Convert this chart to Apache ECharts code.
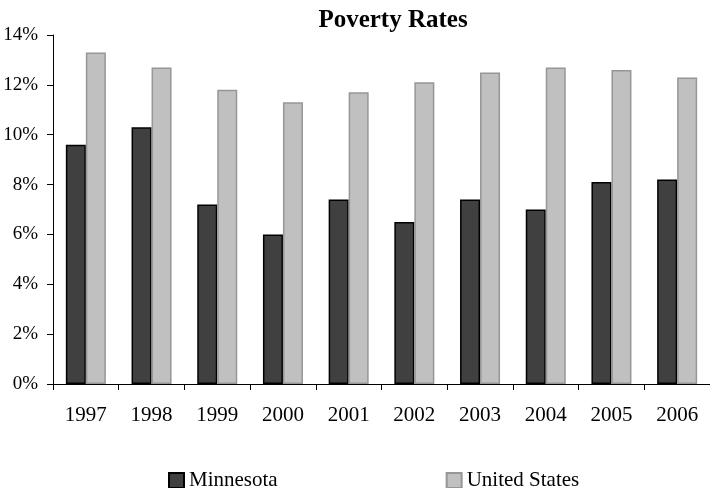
<!DOCTYPE html>
<html>
<head>
    <meta charset="utf-8" />
    <title>Poverty Rates</title>
    <script src="https://cdn.jsdelivr.net/npm/echarts@6/dist/echarts.min.js"></script>
    <style>
        html, body { margin: 0; padding: 0; background: #fff; }
        #chart { width: 710px; height: 488px; }
    </style>
</head>
<body>
    <div id="chart"></div>
    <script type="text/javascript">
        // 数据
        var years = ['1997', '1998', '1999', '2000', '2001', '2002', '2003', '2004', '2005', '2006'];
        var minnesota = [9.6, 10.3, 7.2, 6.0, 7.4, 6.5, 7.4, 7.0, 8.1, 8.2];
        var unitedStates = [13.3, 12.7, 11.8, 11.3, 11.7, 12.1, 12.5, 12.7, 12.6, 12.3];

        var serif = '"Liberation Serif", "DejaVu Serif", serif';
        var myChart = echarts.init(document.getElementById('chart'));

        myChart.setOption({
            animation: false,
            title: {
                text: 'Poverty Rates',
                left: 388,
                textAlign: 'center',
                top: 3,
                textStyle: { fontFamily: serif, fontSize: 25, fontWeight: 'bold', color: '#000' }
            },
            legend: {
                left: 163,
                top: 465,
                itemWidth: 15,
                itemHeight: 15,
                itemGap: 168,
                icon: 'rect',
                textStyle: { fontFamily: serif, fontSize: 21, color: '#000' },
                data: ['Minnesota', 'United States']
            },
            grid: {
                left: 53,
                top: 35,
                width: 660,
                height: 349
            },
            xAxis: {
                type: 'category',
                data: years,
                axisLine: { lineStyle: { color: '#000', width: 1 } },
                axisTick: { show: true, length: 6, lineStyle: { color: '#000' } },
                axisLabel: { fontFamily: serif, fontSize: 21, color: '#000', margin: 21 }
            },
            yAxis: {
                type: 'value',
                min: 0,
                max: 14,
                interval: 2,
                splitLine: { show: false },
                axisLine: { show: true, lineStyle: { color: '#000', width: 1 } },
                axisTick: { show: true, length: 6, lineStyle: { color: '#000' } },
                axisLabel: {
                    fontFamily: serif, fontSize: 19, color: '#000', margin: 15,
                    formatter: function (v) { return v + '%'; }
                }
            },
            series: [{
                name: 'Minnesota',
                type: 'bar',
                barWidth: 20,
                barGap: '0%',
                data: minnesota,
                itemStyle: { color: '#404040', borderColor: '#000', borderWidth: 1.5 }
            }, {
                name: 'United States',
                type: 'bar',
                barWidth: 20,
                data: unitedStates,
                itemStyle: { color: '#c0c0c0', borderColor: '#969696', borderWidth: 1.5 }
            }]
        });
    </script>
</body>
</html>
